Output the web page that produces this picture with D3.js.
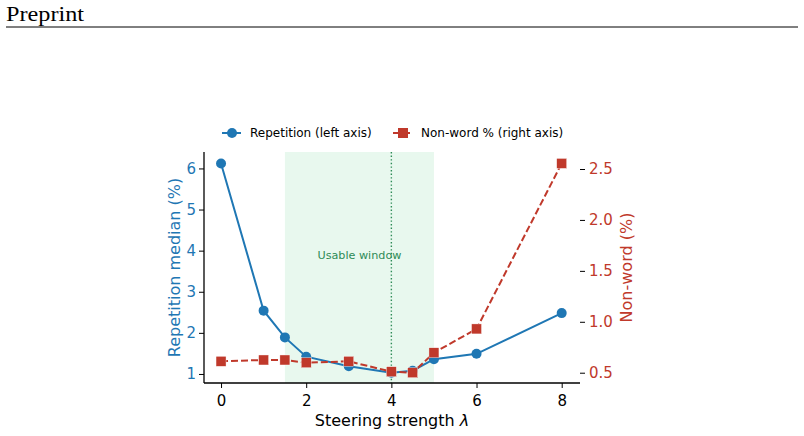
<!DOCTYPE html>
<html>
<head>
<meta charset="utf-8">
<script src="https://cdn.jsdelivr.net/npm/d3@7"></script>
<style>
body { margin: 0; background: #fff; }
</style>
</head>
<body>
<svg id="chart" width="804" height="436"></svg>
<script>
// data
const lambdas = [0, 1, 1.5, 2, 3, 4, 4.5, 5, 6, 8];
const repetition = [6.12, 2.54, 1.89, 1.42, 1.19, 1.03, 1.08, 1.36, 1.49, 2.48];
const nonword = [0.612, 0.625, 0.625, 0.598, 0.612, 0.51, 0.50, 0.696, 0.93, 2.555];
const xTicks = [0, 2, 4, 6, 8];
const leftTicks = [1, 2, 3, 4, 5, 6];
const rightTicks = [0.5, 1.0, 1.5, 2.0, 2.5];
const usableWindow = [1.5, 5];
const chosenLambda = 4;

const blue = "#1f77b4", red = "#c0392b", green = "#2e8b57";
const svg = d3.select("#chart");

// header of the preprint page
svg.append("text").attr("x", 6).attr("y", 21)
  .attr("font-family", "'Liberation Serif', 'Times New Roman', serif")
  .attr("font-size", 20).attr("textLength", 78).attr("lengthAdjust", "spacingAndGlyphs")
  .text("Preprint");
svg.append("line").attr("x1", 6).attr("x2", 798).attr("y1", 27).attr("y2", 27)
  .attr("stroke", "#000").attr("stroke-width", 1);

const pLeft = 204, pRight = 580, pTop = 152, pBottom = 383;
const x = d3.scaleLinear().domain([-0.4, 8.43]).range([pLeft, pRight]);
const yL = d3.scaleLinear().domain([0.78, 6.40]).range([pBottom, pTop]);
const yR = d3.scaleLinear().domain([0.399, 2.667]).range([pBottom, pTop]);

const font = "'DejaVu Sans', sans-serif";

// usable window shading
svg.append("rect")
  .attr("x", x(usableWindow[0])).attr("width", x(usableWindow[1]) - x(usableWindow[0]))
  .attr("y", pTop).attr("height", pBottom - pTop)
  .attr("fill", "#e8f8ee");
svg.append("line")
  .attr("x1", x(chosenLambda)).attr("x2", x(chosenLambda))
  .attr("y1", pTop).attr("y2", pBottom)
  .attr("stroke", green).attr("stroke-width", 1.4).attr("stroke-dasharray", "1.4,2.2");
svg.append("text")
  .attr("x", (x(usableWindow[0]) + x(usableWindow[1])) / 2).attr("y", 259)
  .attr("text-anchor", "middle")
  .attr("font-family", font).attr("font-size", 11.2).attr("fill", green)
  .text("Usable window");

// axes
const xAxis = svg.append("g").attr("transform", `translate(0,${pBottom})`)
  .call(d3.axisBottom(x).tickValues(xTicks).tickSize(5).tickPadding(7).tickFormat(d3.format("d")));
const lAxis = svg.append("g").attr("transform", `translate(${pLeft},0)`)
  .call(d3.axisLeft(yL).tickValues(leftTicks).tickSize(5).tickPadding(3).tickFormat(d3.format("d")));
const rAxis = svg.append("g").attr("transform", `translate(${pRight},0)`)
  .call(d3.axisRight(yR).tickValues(rightTicks).tickSize(5).tickPadding(4).tickFormat(d3.format(".1f")));

[xAxis, lAxis, rAxis].forEach(g => {
  g.attr("font-family", font).attr("font-size", 15);
  g.select(".domain").attr("stroke", "#000").attr("stroke-width", 1.3);
  g.selectAll(".tick line").attr("stroke", "#000").attr("stroke-width", 1);
});
xAxis.select(".domain").attr("d", `M${pLeft},0H${pRight}`);
lAxis.select(".domain").attr("d", `M0,${pTop}V${pBottom}`);
rAxis.select(".domain").remove();
xAxis.selectAll("text").attr("fill", "#000");
lAxis.selectAll("text").attr("fill", blue);
rAxis.selectAll("text").attr("fill", red);

// axis labels
svg.append("text").attr("x", (pLeft + pRight) / 2).attr("y", 426)
  .attr("text-anchor", "middle").attr("font-family", font).attr("font-size", 16)
  .html("Steering strength <tspan font-style='italic'>λ</tspan>");
svg.append("text").attr("transform", `translate(180,${(pTop + pBottom) / 2}) rotate(-90)`)
  .attr("text-anchor", "middle").attr("font-family", font).attr("font-size", 16)
  .attr("fill", blue).text("Repetition median (%)");
svg.append("text").attr("transform", `translate(632,${(pTop + pBottom) / 2}) rotate(-90)`)
  .attr("text-anchor", "middle").attr("font-family", font).attr("font-size", 16)
  .attr("fill", red).text("Non-word (%)");

// repetition series
const repData = lambdas.map((l, i) => ({l: l, v: repetition[i]}));
const nwData = lambdas.map((l, i) => ({l: l, v: nonword[i]}));

svg.append("path").datum(repData)
  .attr("d", d3.line().x(d => x(d.l)).y(d => yL(d.v)))
  .attr("fill", "none").attr("stroke", blue).attr("stroke-width", 2);
svg.append("g").selectAll("circle").data(repData).enter().append("circle")
  .attr("cx", d => x(d.l)).attr("cy", d => yL(d.v)).attr("r", 5)
  .attr("fill", blue);

// non-word series
svg.append("path").datum(nwData)
  .attr("d", d3.line().x(d => x(d.l)).y(d => yR(d.v)))
  .attr("fill", "none").attr("stroke", red).attr("stroke-width", 2)
  .attr("stroke-dasharray", "7,3");
svg.append("g").selectAll("rect").data(nwData).enter().append("rect")
  .attr("x", d => x(d.l) - 5).attr("y", d => yR(d.v) - 5)
  .attr("width", 10).attr("height", 10)
  .attr("fill", red).attr("stroke", "#fff").attr("stroke-width", 0.4);

// legend
const legend = svg.append("g").attr("font-family", font).attr("font-size", 12);
const items = [
  {label: "Repetition (left axis)", color: blue, shape: "circle", x: 222, dash: null},
  {label: "Non-word % (right axis)", color: red, shape: "square", x: 393, dash: "7,3"}
];
items.forEach(it => {
  const g = legend.append("g").attr("transform", `translate(${it.x},133)`);
  g.append("line").attr("x1", 0).attr("x2", 19).attr("stroke", it.color).attr("stroke-width", 2)
    .attr("stroke-dasharray", it.dash);
  if (it.shape == "circle") {
    g.append("circle").attr("cx", 10).attr("r", 5).attr("fill", it.color);
  } else {
    g.append("rect").attr("x", 5).attr("y", -5).attr("width", 10).attr("height", 10).attr("fill", it.color);
  }
  g.append("text").attr("x", 28).attr("y", 4.3).text(it.label);
});
</script>
</body>
</html>
